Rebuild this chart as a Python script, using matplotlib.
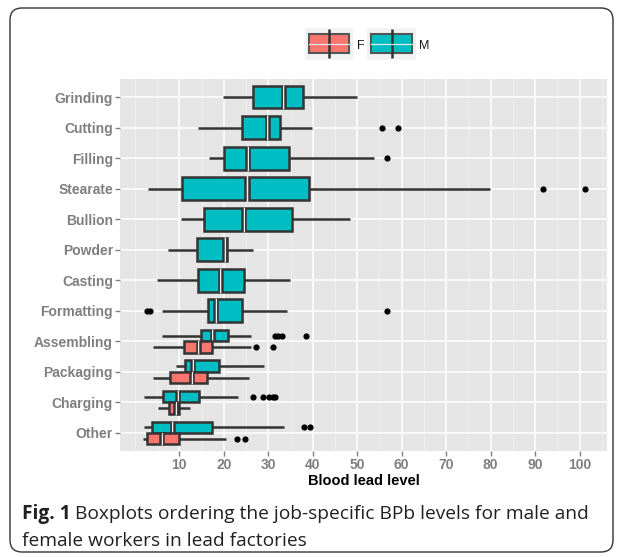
import matplotlib
matplotlib.use("Agg")
import matplotlib.pyplot as plt
from matplotlib.patches import Rectangle, FancyBboxPatch

# ---------------- data ----------------
jobs = ["Grinding", "Cutting", "Filling", "Stearate", "Bullion", "Powder",
        "Casting", "Formatting", "Assembling", "Packaging", "Charging", "Other"]

# male (M) boxplot statistics
m_wlo = [19.9, 14.3, 16.7, 2.9, 10.4, 7.4, 5.0, 6.1, 6.0, 9.2, 2.0, 2.0]
m_q1 = [26.6, 24.1, 20.0, 10.6, 15.5, 14.0, 14.2, 16.4, 14.8, 11.3, 6.4, 3.9]
m_med = [33.4, 29.8, 25.4, 25.2, 24.5, 20.2, 19.2, 18.2, 17.4, 13.0, 9.6, 8.4]
m_q3 = [37.9, 32.6, 34.7, 39.2, 35.3, 20.8, 24.6, 24.0, 20.9, 19.0, 14.4, 17.4]
m_whi = [49.9, 39.9, 53.8, 79.9, 48.3, 26.5, 34.9, 34.2, 26.0, 29.0, 23.1, 33.5]
m_out = [[], [55.5, 59.1], [56.6], [91.8, 101.3], [], [], [],
         [2.8, 3.3, 56.6], [31.4, 32.2, 33.1, 38.5], [],
         [26.5, 28.7, 30.2, 31.0, 31.5], [38.1, 39.4]]

# female (F) boxplot statistics (only for the last four jobs)
f_jobs = ["Assembling", "Packaging", "Charging", "Other"]
f_wlo = [4.0, 4.1, 5.1, 1.9]
f_q1 = [11.0, 8.0, 7.7, 2.8]
f_med = [14.3, 12.8, 9.2, 6.0]
f_q3 = [17.3, 16.2, 10.0, 9.9]
f_whi = [26.0, 25.6, 12.4, 20.5]
f_out = [[27.2, 31.1], [], [], [22.9, 24.8]]

x_ticks = [10, 20, 30, 40, 50, 60, 70, 80, 90, 100]
x_minor = [0, 5, 15, 25, 35, 45, 55, 65, 75, 85, 95, 105]

# ---------------- style ----------------
COL_F = "#F8766D"
COL_M = "#00BFC4"
EDGE = "#333333"
GREY = "#7f7f7f"
LW = 1.8
GAP = 0.7
SANS = ["Liberation Sans", "DejaVu Sans"]
CAP = ["Open Sans", "DejaVu Sans"]

W, H = 622, 557
fig = plt.figure(figsize=(W / 100, H / 100), dpi=100)
fig.patch.set_facecolor("white")


def px_axes(x0, y0, x1, y1):
    return fig.add_axes([x0 / W, 1 - y1 / H, (x1 - x0) / W, (y1 - y0) / H])


ax = px_axes(120, 78.7, 606.7, 451.3)
ax.set_facecolor("#e5e5e5")
ax.set_xlim(-3.35, 106.1)
n = len(jobs)
ax.set_ylim(n - 1 + 0.6, -0.6)
for s in ax.spines.values():
    s.set_visible(False)

for v in x_minor:
    ax.axvline(v, color="#f2f2f2", lw=0.6, zorder=0)
for v in x_ticks:
    ax.axvline(v, color="white", lw=1.1, zorder=0)
for i in range(n):
    ax.axhline(i, color="white", lw=1.1, zorder=0)

ax.set_xticks(x_ticks)
ax.set_xticklabels([str(t) for t in x_ticks], family=SANS, fontweight="bold")
ax.set_yticks(range(n))
ax.set_yticklabels(jobs, family=SANS, fontweight="bold")
ax.tick_params(axis="both", color=GREY, length=3.5, width=1.0,
               labelcolor=GREY, labelsize=10, pad=1.5)


def draw_box(y, h, wlo, q1, med, q3, whi, outs, color):
    ax.plot([wlo, q1], [y, y], color=EDGE, lw=LW, solid_capstyle="butt", zorder=2)
    ax.plot([q3, whi], [y, y], color=EDGE, lw=LW, solid_capstyle="butt", zorder=2)
    g = GAP / 2
    ax.add_patch(Rectangle((q1, y - h / 2), max(med - g - q1, 0.05), h,
                           fc=color, ec=EDGE, lw=LW, zorder=3))
    ax.add_patch(Rectangle((med + g, y - h / 2), max(q3 - med - g, 0.05), h,
                           fc=color, ec=EDGE, lw=LW, zorder=3))
    ax.plot([med, med], [y - h / 2, y + h / 2], color="#eeeeee", lw=0.8, zorder=3)
    if outs:
        ax.scatter(outs, [y] * len(outs), s=20, color="black", lw=0, zorder=4)


for i, job in enumerate(jobs):
    if job in f_jobs:
        k = f_jobs.index(job)
        draw_box(i - 0.1875, 0.375, m_wlo[i], m_q1[i], m_med[i], m_q3[i],
                 m_whi[i], m_out[i], COL_M)
        draw_box(i + 0.1875, 0.375, f_wlo[k], f_q1[k], f_med[k], f_q3[k],
                 f_whi[k], f_out[k], COL_F)
    else:
        draw_box(i, 0.75, m_wlo[i], m_q1[i], m_med[i], m_q3[i],
                 m_whi[i], m_out[i], COL_M)

fig.text(363.4 / W, 1 - 481 / H, "Blood lead level", family=SANS,
         fontweight="bold", fontsize=10.5, ha="center", va="center", color="black")

# ---------------- legend ----------------
for (x0, x1), col, lab, lx in [((305, 353), COL_F, "F", 357),
                               ((367, 416), COL_M, "M", 419)]:
    k = px_axes(x0, 28.3, x1, 60)
    k.set_facecolor("#f2f2f2")
    k.set_xlim(0, 1)
    k.set_ylim(1, 0)
    k.set_xticks([])
    k.set_yticks([])
    for s in k.spines.values():
        s.set_visible(False)
    k.plot([0.5, 0.5], [0.03, 0.95], color="#333333", lw=1.8, solid_capstyle="butt")
    k.add_patch(Rectangle((0.09, 0.19), 0.83, 0.6, fc=col, ec="#555555", lw=1.5))
    k.plot([0.09, 0.92], [0.49, 0.49], color="#e6e6e6", lw=0.9)
    fig.text(lx / W, 1 - 46 / H, lab, family=SANS, fontsize=9,
             ha="left", va="center", color="#1a1a1a")

# ---------------- frame and caption ----------------
frame = FancyBboxPatch((10 / 100, (H - 552) / 100), (613 - 10) / 100, (552 - 8) / 100,
                       boxstyle="round,pad=0,rounding_size=0.12",
                       transform=fig.dpi_scale_trans, fc="none", ec="#333333", lw=1.0)
fig.patches.append(frame)

r = fig.canvas.get_renderer()
t1 = fig.text(22 / W, 1 - 519 / H, "Fig. 1", family=CAP, fontweight="bold",
              fontsize=13.8, color="#231f20", ha="left", va="baseline")
bb = t1.get_window_extent(renderer=r)
fig.text(bb.x1 / W + 4 / W, 1 - 519 / H,
         "Boxplots ordering the job-specific BPb levels for male and",
         family=CAP, fontsize=13.8, color="#231f20", ha="left", va="baseline")
fig.text(22 / W, 1 - 546 / H, "female workers in lead factories",
         family=CAP, fontsize=13.8, color="#231f20", ha="left", va="baseline")

fig.savefig("out.png", dpi=100)
